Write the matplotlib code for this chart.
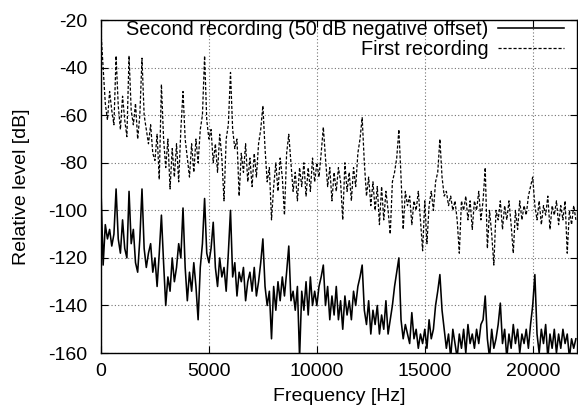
import numpy as np
import matplotlib
matplotlib.use('Agg')
import matplotlib.pyplot as plt

plt.rcParams['font.family'] = ['Liberation Sans', 'DejaVu Sans']
plt.rcParams['axes.unicode_minus'] = False

# частотна сітка, крок 100 Гц (0 .. 22000 Гц)
freq_step = 100
n_points = 221

# перший запис (штрихова лінія), дБ
first_rec = [
    -25, -40, -55, -62, -50, -58, -64, -35, -56, -66,
    -52, -62, -69, -35, -58, -64, -55, -70, -60, -36,
    -60, -66, -72, -64, -76, -79, -68, -87, -47, -70,
    -82, -70, -91, -74, -86, -72, -88, -66, -50, -70,
    -78, -86, -72, -84, -70, -80, -66, -60, -35, -62,
    -70, -66, -80, -72, -84, -68, -78, -96, -70, -64,
    -42, -66, -74, -70, -94, -76, -84, -72, -88, -78,
    -90, -76, -86, -72, -66, -56, -74, -88, -82, -104,
    -90, -80, -92, -78, -86, -102, -76, -68, -80, -92,
    -84, -96, -82, -90, -80, -94, -82, -92, -78, -88,
    -80, -86, -76, -65, -78, -90, -82, -96, -84, -92,
    -82, -88, -104, -80, -92, -84, -96, -82, -90, -76,
    -70, -61, -80, -94, -86, -98, -88, -100, -90, -106,
    -90, -104, -92, -100, -110, -88, -84, -78, -66, -86,
    -108, -92, -98, -94, -106, -96, -100, -92, -104, -117,
    -96, -114, -98, -92, -100, -88, -84, -70, -86, -94,
    -92, -98, -94, -100, -96, -104, -118, -96, -100, -94,
    -104, -96, -108, -96, -100, -92, -104, -96, -82, -116,
    -100, -110, -123, -100, -104, -96, -108, -98, -104, -96,
    -106, -118, -100, -108, -96, -104, -98, -102, -94, -90,
    -86, -98, -104, -96, -106, -98, -102, -94, -108, -98,
    -102, -96, -106, -98, -104, -96, -118, -100, -106, -98,
    -104,
]

# другий запис (суцільна лінія, зсув -50 дБ), дБ
second_rec = [
    -91, -123, -106, -112, -108, -115, -110, -91, -112, -118,
    -104, -116, -120, -92, -114, -108, -122, -126, -112, -91,
    -116, -124, -118, -114, -126, -120, -132, -118, -102, -122,
    -140, -128, -134, -120, -130, -124, -114, -120, -99, -124,
    -138, -126, -134, -122, -132, -146, -124, -114, -95, -118,
    -122, -116, -105, -124, -132, -120, -128, -124, -134, -118,
    -100, -128, -122, -136, -126, -130, -124, -138, -130, -126,
    -134, -124, -136, -130, -122, -112, -132, -140, -134, -154,
    -132, -142, -130, -138, -128, -136, -126, -115, -138, -134,
    -142, -132, -162, -134, -142, -130, -144, -128, -140, -134,
    -140, -132, -128, -123, -140, -132, -146, -136, -144, -132,
    -146, -138, -150, -136, -144, -138, -146, -134, -140, -132,
    -128, -123, -142, -148, -138, -152, -142, -148, -140, -152,
    -144, -150, -138, -152, -146, -140, -132, -126, -120, -146,
    -154, -148, -152, -156, -143, -154, -150, -158, -152, -156,
    -150, -158, -146, -154, -150, -140, -134, -127, -142, -150,
    -158, -152, -162, -150, -156, -162, -152, -158, -150, -160,
    -148, -156, -152, -158, -150, -156, -148, -146, -136, -154,
    -162, -150, -158, -154, -148, -139, -156, -150, -162, -152,
    -158, -148, -156, -150, -160, -152, -156, -150, -158, -148,
    -140, -127, -152, -160, -150, -156, -148, -162, -152, -158,
    -150, -160, -152, -158, -150, -156, -152, -162, -154, -158,
    -154,
]

freqs = np.arange(n_points) * freq_step

fig = plt.figure(figsize=(5.78, 4.11), dpi=100)
ax = fig.add_axes([0.1747, 0.141, 0.8235, 0.810])

ax.plot(freqs, second_rec, color='black', lw=1.15,
        label='Second recording (50 dB negative offset)')
ax.plot(freqs, first_rec, color='black', lw=0.9, linestyle=(0, (2.5, 1.5)),
        label='First recording')

ax.set_xlim(0, 22050)
ax.set_ylim(-160, -20)
ax.set_xticks([0, 5000, 10000, 15000, 20000])
ax.set_yticks(np.arange(-160, -19, 20))
ax.grid(True, color='0.45', linestyle=(0, (1, 2)), lw=0.8)
ax.tick_params(direction='in', top=True, right=True, length=5, labelsize=14)
ax.tick_params(axis='y', pad=10)
ax.tick_params(axis='x', pad=7)
for s in ax.spines.values():
    s.set_linewidth(1.0)

ax.set_xlabel('Frequency [Hz]', fontsize=14, labelpad=6)
ax.set_ylabel('Relative level [dB]', fontsize=14, labelpad=13)

ax.legend(loc='upper right', bbox_to_anchor=(0.972, 1.0), frameon=False,
          markerfirst=False, fontsize=14.3, handlelength=3.3, handletextpad=0.5,
          borderpad=0.0, borderaxespad=0.0, labelspacing=0.05)

fig.savefig('out.png', dpi=100)
